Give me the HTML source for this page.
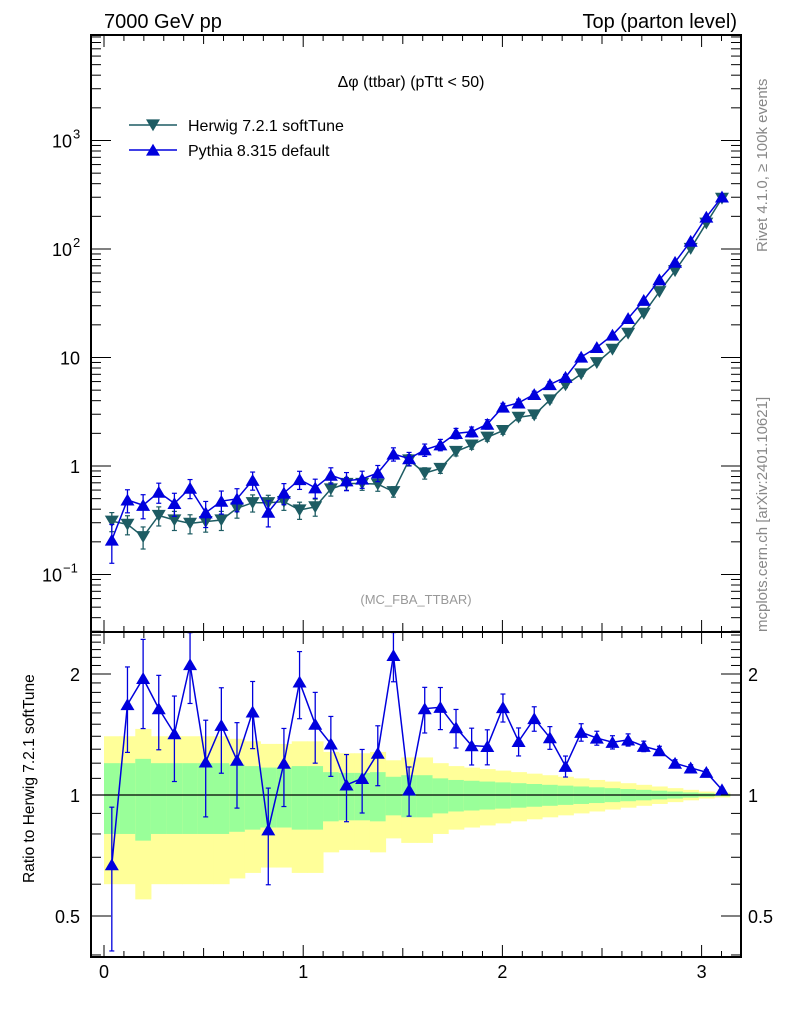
<!DOCTYPE html>
<html><head><meta charset="utf-8"><style>
html,body{margin:0;padding:0;background:#fff;}
svg{display:block;font-family:"Liberation Sans",Arial,sans-serif;}
</style></head><body>
<svg id="c" width="786" height="1024" viewBox="0 0 786 1024" xmlns="http://www.w3.org/2000/svg">
<text x="104" y="28" font-size="20">7000 GeV pp</text>
<text x="737" y="28" font-size="20" text-anchor="end">Top (parton level)</text>
<text x="411" y="87" font-size="16" text-anchor="middle">Δφ (ttbar) (pTtt &lt; 50)</text>
<text x="416" y="604" font-size="13" fill="#999" text-anchor="middle">(MC_FBA_TTBAR)</text>
<text transform="translate(767,252) rotate(-90)" font-size="15" fill="#888">Rivet 4.1.0, ≥ 100k events</text>
<text transform="translate(767,632) rotate(-90)" font-size="15" fill="#888">mcplots.cern.ch [arXiv:2401.10621]</text>
<text transform="translate(34,883) rotate(-90)" font-size="15.5">Ratio to Herwig 7.2.1 softTune</text>
<g id="g"></g>
</svg>
<script>
const herwig=[0.31,0.29,0.223,0.35,0.318,0.296,0.307,0.318,0.408,0.459,0.459,0.47,0.393,0.42,0.614,0.69,0.69,0.68,0.58,1.136,0.86,0.95,1.36,1.56,1.84,2.12,2.81,2.95,4.06,5.58,7.05,8.95,11.9,16.7,25.5,40.4,63,101,173,293];
const pythia=[0.208,0.487,0.435,0.574,0.452,0.625,0.371,0.474,0.498,0.739,0.376,0.564,0.751,0.63,0.823,0.731,0.759,0.864,1.29,1.17,1.41,1.57,2.0,2.07,2.43,3.5,3.82,4.57,5.64,6.58,10.1,12.4,16.1,22.9,33.7,52.1,75.6,118,197,302];
const herwigRelErr=[.20,.20,.23,.20,.20,.20,.20,.20,.19,.18,.17,.17,.18,.18,.14,.135,.135,.14,.11,.12,.12,.10,.09,.085,.08,.075,.07,.065,.06,.055,.05,.045,.04,.035,.03,.025,.02,.015,.01,.007];
const pythiaRelErr=[.39,.24,.25,.21,.24,.2,.27,.24,.24,.19,.27,.22,.19,.2,.17,.19,.18,.17,.14,.14,.13,.12,.11,.105,.1,.08,.08,.07,.065,.06,.05,.04,.038,.035,.03,.025,.02,.018,.015,.01];
const xTicks=[0,1,2,3];
const NB=40, BW=Math.PI/40;
const g=document.getElementById('g');
const NS='http://www.w3.org/2000/svg';
function el(t,a,p){const e=document.createElementNS(NS,t);for(const k in a)e.setAttribute(k,a[k]);(p||g).appendChild(e);return e;}
const L=91,R=741,T=35,M=632,B=957;
const X=v=>104+v*199.2;
const Y=v=>466-Math.log10(v)*108.5;
const RY=v=>795-Math.log10(v)*402;
const defs=el('defs',{});
const c1=el('clipPath',{id:'cm'},defs);el('rect',{x:L,y:T,width:R-L,height:M-T},c1);
const c2=el('clipPath',{id:'cr'},defs);el('rect',{x:L,y:M,width:R-L,height:B-M},c2);
const bands=el('g',{'clip-path':'url(#cr)'});


for(let i=0;i<NB;i++){const x0=X(i*BW),x1=X((i+1)*BW),e=herwigRelErr[i];
 const y=el('rect',{x:x0,y:RY(1+2*e),width:x1-x0+0.5,height:RY(Math.max(1-2*e,0.55))-RY(1+2*e),fill:'#ffff99'},bands);
 
 
 const gr=el('rect',{x:x0,y:RY(1+e),width:x1-x0+0.5,height:RY(1-e)-RY(1+e),fill:'#99ff99'},bands);
 
 
}
el('line',{x1:L,x2:R,y1:RY(1),y2:RY(1),stroke:'#000','stroke-width':1.2});
function tri(par,x,y,down,col){const s=7;const p=down?`${x-s},${y-s*0.8} ${x+s},${y-s*0.8} ${x},${y+s*0.9}`:`${x-s},${y+s*0.8} ${x+s},${y+s*0.8} ${x},${y-s*0.9}`;return el('polygon',{points:p,fill:col},par);}
function series(vals,errs,col,down,name,yf,clip){
 const gg=el('g',{'clip-path':clip});
 
 
 const pts=vals.map((v,i)=>[X((i+0.5)*BW),yf(v)]);
 el('polyline',{points:pts.map(p=>p.join(',')).join(' '),fill:'none',stroke:col,'stroke-width':1.5},gg);
 vals.forEach((v,i)=>{const x=pts[i][0];const y1=yf(v*(1+errs[i])),y2=yf(v*(1-errs[i]));
  el('line',{x1:x,x2:x,y1:y1,y2:y2,stroke:col,'stroke-width':1.3},gg);
  el('line',{x1:x-2.5,x2:x+2.5,y1:y1,y2:y1,stroke:col,'stroke-width':1.2},gg);
  el('line',{x1:x-2.5,x2:x+2.5,y1:y2,y2:y2,stroke:col,'stroke-width':1.2},gg);
  const m=tri(gg,x,pts[i][1],down,col);
  
  
 });
}
series(herwig,herwigRelErr,'#1d5c63',true,'herwig-series',Y,'url(#cm)');
series(pythia,pythiaRelErr,'#0000dd',false,'pythia-series',Y,'url(#cm)');
series(pythia.map((v,i)=>v/herwig[i]),pythiaRelErr,'#0000dd',false,'ratio-series',RY,'url(#cr)');
el('rect',{x:L,y:T,width:R-L,height:M-T,fill:'none',stroke:'#000','stroke-width':2});
el('rect',{x:L,y:M,width:R-L,height:B-M,fill:'none',stroke:'#000','stroke-width':2});
for(let k=0;k<=32;k++){const v=k/10;const x=X(v);const len=(k%10==0)?12:(k%5==0?9:6);
 [[T,1],[M,-1],[M,1],[B,-1]].forEach(([y,d])=>el('line',{x1:x,x2:x,y1:y,y2:y+d*len,stroke:'#000','stroke-width':1}));}
xTicks.forEach(v=>{const t=el('text',{x:X(v),y:978,'font-size':18,'text-anchor':'middle'});t.textContent=v;
 
 });
for(let d=-2;d<=3;d++)for(let m=1;m<10;m++){const v=m*Math.pow(10,d);const y=Y(v);if(y<T||y>M)continue;const len=m==1?20:10;
 el('line',{x1:L,x2:L+len,y1:y,y2:y,stroke:'#000'});el('line',{x1:R,x2:R-len,y1:y,y2:y,stroke:'#000'});}
const ylab=[[1000,'10','3',72],[100,'10','2',72],[10,'10',null,80],[1,'1',null,80],[0.1,'10','−1',62]];
ylab.forEach(([v,b,s,xe])=>{const y=Y(v)+7;const t=el('text',{x:xe,y:y,'font-size':18,'text-anchor':'end'});t.textContent=b;
 
 
 if(s){const u=el('text',{x:xe+1,y:y-9,'font-size':13,'text-anchor':'start'});u.textContent=s;}});
[0.4,0.5,0.6,0.7,0.8,0.9,1,1.1,1.2,1.3,1.4,1.5,1.6,1.7,1.8,1.9,2,2.1,2.2,2.3,2.4,2.5].forEach(v=>{const y=RY(v);if(y<M||y>B)return;const len=(v==0.5||v==1||v==2)?20:10;
 el('line',{x1:L,x2:L+len,y1:y,y2:y,stroke:'#000'});el('line',{x1:R,x2:R-len,y1:y,y2:y,stroke:'#000'});});
[[2,'2'],[1,'1'],[0.5,'0.5']].forEach(([v,s])=>{[[80,'end'],[748,'start']].forEach(([x,a])=>{const t=el('text',{x:x,y:RY(v)+7,'font-size':18,'text-anchor':a});t.textContent=s;
 
 });});
const lg=el('g',{});


[['Herwig 7.2.1 softTune','#1d5c63',true,125],['Pythia 8.315 default','#0000dd',false,150]].forEach(([n,c,d,y])=>{
 el('line',{x1:129,x2:177,y1:y,y2:y,stroke:c,'stroke-width':1.5},lg);tri(lg,153,y,d,c);
 const t=el('text',{x:188,y:y+6,'font-size':16},lg);t.textContent=n;
 
 });
</script>
</body></html>
